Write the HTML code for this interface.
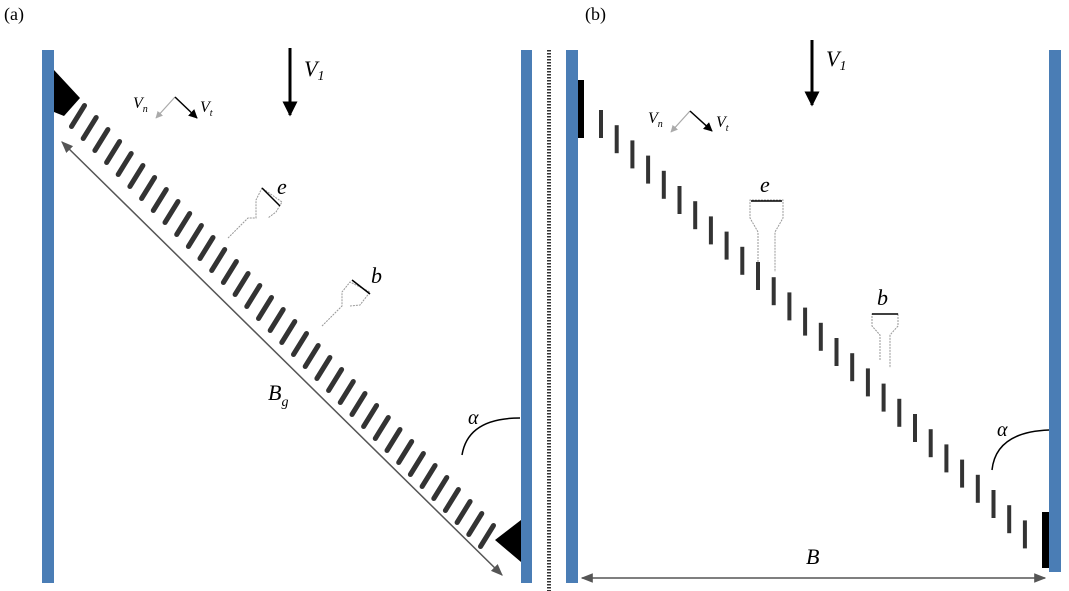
<!DOCTYPE html>
<html><head><style>body{margin:0;background:#fff}svg{display:block}text{font-family:"Liberation Serif",serif;font-style:italic;fill:#000}</style></head><body>
<svg width="1069" height="591" viewBox="0 0 1069 591" xmlns="http://www.w3.org/2000/svg" xmlns:xlink="http://www.w3.org/1999/xlink">
<defs>
<marker id="ga" viewBox="0 0 10 10" refX="9" refY="5" markerWidth="8" markerHeight="8" orient="auto-start-reverse"><path d="M0,1 L10,5 L0,9 z" fill="#555"/></marker>
<marker id="ba" viewBox="0 0 10 10" refX="9" refY="5" markerWidth="5" markerHeight="5" orient="auto"><path d="M0,0 L10,5 L0,10 z" fill="#000"/></marker>
<marker id="sa" viewBox="0 0 10 10" refX="9" refY="5" markerWidth="6" markerHeight="6" orient="auto"><path d="M0,0 L10,5 L0,10 z" fill="#000"/></marker>
<marker id="sg" viewBox="0 0 10 10" refX="9" refY="5" markerWidth="6" markerHeight="6" orient="auto"><path d="M0,0 L10,5 L0,10 z" fill="#aaa"/></marker>
<line id="ba1" x1="-6.5" y1="10.5" x2="6.5" y2="-10.5" stroke="#333" stroke-width="5" stroke-linecap="round"/>
<line id="bb1" x1="0" y1="0" x2="0" y2="28" stroke="#333" stroke-width="4"/>
</defs>
<text x="4" y="20" font-size="18" style="font-style:normal">(a)</text>
<text x="585" y="20" font-size="18" style="font-style:normal">(b)</text>
<rect x="42" y="50" width="12" height="533" fill="#4a7db5"/>
<rect x="521" y="50" width="11" height="533" fill="#4a7db5"/>
<rect x="566" y="50" width="12" height="533" fill="#4a7db5"/>
<rect x="1049" y="50" width="12" height="522" fill="#4a7db5"/>
<line x1="549" y1="50" x2="549" y2="591" stroke="#333" stroke-width="4" stroke-dasharray="1.5,1.5"/>
<path d="M54,70 L80,98 L64,116 L54,112 z" fill="#000"/>
<path d="M521,520 L521,562 L495,540 z" fill="#000"/>
<g transform="translate(0,4)">
<use xlink:href="#ba1" x="78" y="112"/><use xlink:href="#ba1" x="89.7" y="124"/><use xlink:href="#ba1" x="101.4" y="136"/><use xlink:href="#ba1" x="113.1" y="148"/><use xlink:href="#ba1" x="124.7" y="160"/><use xlink:href="#ba1" x="136.4" y="172"/><use xlink:href="#ba1" x="148.1" y="184"/><use xlink:href="#ba1" x="159.8" y="196"/><use xlink:href="#ba1" x="171.5" y="208"/><use xlink:href="#ba1" x="183.2" y="220"/><use xlink:href="#ba1" x="194.9" y="232"/><use xlink:href="#ba1" x="206.5" y="244"/><use xlink:href="#ba1" x="218.2" y="256"/><use xlink:href="#ba1" x="229.9" y="268"/><use xlink:href="#ba1" x="241.6" y="280"/><use xlink:href="#ba1" x="253.3" y="292"/><use xlink:href="#ba1" x="265" y="304"/><use xlink:href="#ba1" x="276.7" y="316"/><use xlink:href="#ba1" x="288.3" y="328"/><use xlink:href="#ba1" x="300" y="340"/><use xlink:href="#ba1" x="311.7" y="352"/><use xlink:href="#ba1" x="323.4" y="364"/><use xlink:href="#ba1" x="335.1" y="376"/><use xlink:href="#ba1" x="346.8" y="388"/><use xlink:href="#ba1" x="358.5" y="400"/><use xlink:href="#ba1" x="370.1" y="412"/><use xlink:href="#ba1" x="381.8" y="424"/><use xlink:href="#ba1" x="393.5" y="436"/><use xlink:href="#ba1" x="405.2" y="448"/><use xlink:href="#ba1" x="416.9" y="460"/><use xlink:href="#ba1" x="428.6" y="472"/><use xlink:href="#ba1" x="440.3" y="484"/><use xlink:href="#ba1" x="451.9" y="496"/><use xlink:href="#ba1" x="463.6" y="508"/><use xlink:href="#ba1" x="475.3" y="520"/><use xlink:href="#ba1" x="487" y="532"/>
</g>
<line x1="62" y1="142" x2="502" y2="575" stroke="#555" stroke-width="1.5" marker-start="url(#ga)" marker-end="url(#ga)"/>
<text x="268" y="400" font-size="22">B<tspan font-size="14" dy="6">g</tspan></text>
<line x1="290" y1="48" x2="290" y2="115" stroke="#000" stroke-width="3" marker-end="url(#ba)"/>
<text x="304" y="76" font-size="22">V<tspan font-size="14" dy="4">1</tspan></text>
<line x1="812" y1="40" x2="812" y2="105" stroke="#000" stroke-width="3" marker-end="url(#ba)"/>
<text x="826" y="66" font-size="22">V<tspan font-size="14" dy="4">1</tspan></text>
<text x="133" y="108" font-size="16">V<tspan font-size="10" dy="4">n</tspan></text>
<line x1="175" y1="97" x2="156" y2="118" stroke="#aaa" stroke-width="1.2" marker-end="url(#sg)"/>
<line x1="175" y1="97" x2="197" y2="118" stroke="#000" stroke-width="1.5" marker-end="url(#sa)"/>
<text x="200" y="112" font-size="16">V<tspan font-size="10" dy="4">t</tspan></text>
<text x="648" y="123" font-size="16">V<tspan font-size="10" dy="4">n</tspan></text>
<line x1="690" y1="111" x2="671" y2="132" stroke="#aaa" stroke-width="1.2" marker-end="url(#sg)"/>
<line x1="690" y1="111" x2="712" y2="131" stroke="#000" stroke-width="1.5" marker-end="url(#sa)"/>
<text x="716" y="127" font-size="16">V<tspan font-size="10" dy="4">t</tspan></text>
<path d="M228,238 L248,218 L256,218 L256,200 L262,188 L282,202 L276,212 L268,218" fill="none" stroke="#999" stroke-width="1" stroke-dasharray="2,1"/>
<line x1="262" y1="188" x2="280" y2="206" stroke="#000" stroke-width="1.5"/>
<text x="277" y="194" font-size="22">e</text>
<path d="M322,326 L342,306 L342,292 L350,282 L370,292 L360,305 L350,306" fill="none" stroke="#999" stroke-width="1" stroke-dasharray="2,1"/>
<line x1="352" y1="280" x2="370" y2="294" stroke="#000" stroke-width="1.5"/>
<text x="371" y="283" font-size="22">b</text>
<path d="M462,455 Q468,418 520,418" fill="none" stroke="#000" stroke-width="1.5"/>
<text x="468" y="424" font-size="20">α</text>
<rect x="578" y="80" width="6" height="58" fill="#000"/>
<rect x="1042" y="512" width="7" height="56" fill="#000"/>
<g>
<use xlink:href="#bb1" x="601" y="110"/><use xlink:href="#bb1" x="616.7" y="125.2"/><use xlink:href="#bb1" x="632.4" y="140.4"/><use xlink:href="#bb1" x="648.1" y="155.6"/><use xlink:href="#bb1" x="663.8" y="170.8"/><use xlink:href="#bb1" x="679.5" y="186"/><use xlink:href="#bb1" x="695.2" y="201.2"/><use xlink:href="#bb1" x="710.9" y="216.4"/><use xlink:href="#bb1" x="726.6" y="231.6"/><use xlink:href="#bb1" x="742.3" y="246.8"/><use xlink:href="#bb1" x="758" y="262"/><use xlink:href="#bb1" x="773.7" y="277.2"/><use xlink:href="#bb1" x="789.4" y="292.4"/><use xlink:href="#bb1" x="805.1" y="307.6"/><use xlink:href="#bb1" x="820.8" y="322.8"/><use xlink:href="#bb1" x="836.5" y="338"/><use xlink:href="#bb1" x="852.2" y="353.2"/><use xlink:href="#bb1" x="867.9" y="368.4"/><use xlink:href="#bb1" x="883.6" y="383.6"/><use xlink:href="#bb1" x="899.3" y="398.8"/><use xlink:href="#bb1" x="915" y="414"/><use xlink:href="#bb1" x="930.7" y="429.2"/><use xlink:href="#bb1" x="946.4" y="444.4"/><use xlink:href="#bb1" x="962.1" y="459.6"/><use xlink:href="#bb1" x="977.8" y="474.8"/><use xlink:href="#bb1" x="993.5" y="490"/><use xlink:href="#bb1" x="1009.2" y="505.2"/><use xlink:href="#bb1" x="1024.9" y="520.4"/>
</g>
<line x1="582" y1="578" x2="1045" y2="578" stroke="#555" stroke-width="1.5" marker-start="url(#ga)" marker-end="url(#ga)"/>
<text x="806" y="564" font-size="22">B</text>
<path d="M758,262 L758,232 L750,218 L750,200 L783,200 L783,218 L775,232 L775,272" fill="none" stroke="#999" stroke-width="1" stroke-dasharray="2,1"/>
<line x1="751" y1="201" x2="782" y2="201" stroke="#000" stroke-width="1.5"/>
<text x="760" y="192" font-size="22">e</text>
<path d="M880,360 L880,335 L872,326 L872,314 L898,314 L898,326 L890,335 L890,368" fill="none" stroke="#999" stroke-width="1" stroke-dasharray="2,1"/>
<line x1="872" y1="314" x2="898" y2="314" stroke="#000" stroke-width="1.5"/>
<text x="877" y="305" font-size="22">b</text>
<path d="M992,470 Q996,432 1049,430" fill="none" stroke="#000" stroke-width="1.5"/>
<text x="997" y="436" font-size="20">α</text>
</svg>
</body></html>
